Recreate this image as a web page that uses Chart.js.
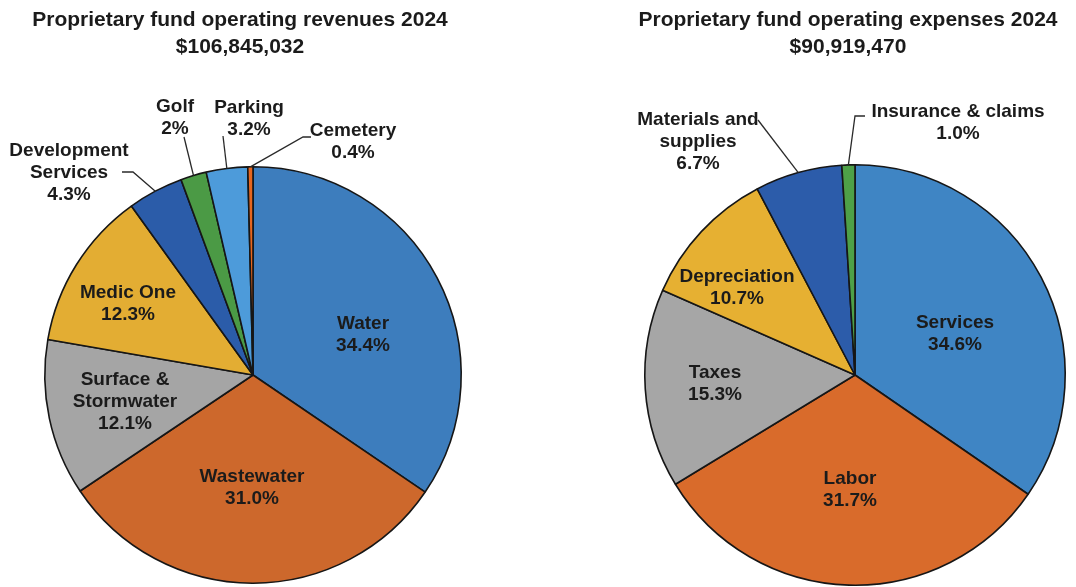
<!DOCTYPE html>
<html>
<head>
<meta charset="utf-8">
<script src="https://cdn.jsdelivr.net/npm/chart.js@4.4.1/dist/chart.umd.min.js"></script>
<style>
  html, body { margin: 0; padding: 0; background: #ffffff; }
  #wrap { position: relative; width: 1076px; height: 587px; overflow: hidden; }
  .pane { position: absolute; top: 0; width: 538px; height: 587px; }
</style>
</head>
<body>
<div id="wrap">
  <div class="pane" style="left:0"><canvas id="rev" width="538" height="587"></canvas></div>
  <div class="pane" style="left:538px"><canvas id="exp" width="538" height="587"></canvas></div>
</div>
<script>
// ---- Revenues 2024 ----
const revTitle = ['Proprietary fund operating revenues 2024', '$106,845,032'];
const revCategories = ['Water', 'Wastewater', 'Surface &\nStormwater', 'Medic One',
                       'Development\nServices', 'Golf', 'Parking', 'Cemetery'];
const revValues = [34.4, 31.0, 12.1, 12.3, 4.3, 2, 3.2, 0.4];
const revDecimals = [1, 1, 1, 1, 1, 0, 1, 1];

// ---- Expenses 2024 ----
const expTitle = ['Proprietary fund operating expenses 2024', '$90,919,470'];
const expCategories = ['Services', 'Labor', 'Taxes', 'Depreciation',
                       'Materials and\nsupplies', 'Insurance & claims'];
const expValues = [34.6, 31.7, 15.3, 10.7, 6.7, 1.0];
const expDecimals = [1, 1, 1, 1, 1, 1];

// Slice fills
const revColors = ['#3d7dbd', '#cd682c', '#a5a5a5', '#e3ad33', '#2b5ca9', '#4b9a45', '#4d9bda', '#e8661f'];
const expColors = ['#3f85c4', '#d96b2b', '#a6a6a6', '#e6b032', '#2c5caa', '#4ea048'];

// Label placement, in px relative to the pie centre; leader lines end on the slice edge
const revLabelLayout = [
  { dx: 110, dy: -40 },
  { dx: -1, dy: 113 },
  { dx: -128, dy: 27 },
  { dx: -125, dy: -71 },
  { dx: -184, dy: -202, leader: [[-131, -203], [-120, -203]] },
  { dx: -78, dy: -257, leader: [[-69, -238]] },
  { dx: -4, dy: -256, leader: [[-30, -239]] },
  { dx: 100, dy: -233, leader: [[58, -238], [50, -238]] }
];
const expLabelLayout = [
  { dx: 100, dy: -41 },
  { dx: -5, dy: 115 },
  { dx: -140, dy: 9 },
  { dx: -118, dy: -87 },
  { dx: -157, dy: -233, leader: [[-97, -255]] },
  { dx: 103, dy: -252, leader: [[10, -259], [0, -259]] }
];

const FONT = '"Liberation Sans", Arial, sans-serif';
const TEXT = '#1b1b1b';

const titlePlugin = {
  id: 'twoLineTitle',
  afterDraw(chart, args, opts) {
    const ctx = chart.ctx;
    ctx.save();
    ctx.fillStyle = TEXT;
    ctx.font = 'bold ' + opts.size + 'px ' + FONT;
    ctx.textAlign = 'center';
    ctx.textBaseline = 'middle';
    opts.lines.forEach((t, i) => ctx.fillText(t, opts.x, opts.y + i * opts.lineHeight));
    ctx.restore();
  }
};

const sliceLabelPlugin = {
  id: 'sliceLabels',
  afterDatasetsDraw(chart, args, opts) {
    const ctx = chart.ctx;
    const meta = chart.getDatasetMeta(0);
    const ds = chart.data.datasets[0];
    ctx.save();
    meta.data.forEach((arc, i) => {
      const lay = opts.layout[i];
      const cx = arc.x, cy = arc.y;
      const mid = (arc.startAngle + arc.endAngle) / 2;
      if (lay.leader) {
        ctx.strokeStyle = '#2a2a2a';
        ctx.lineWidth = 1.3;
        ctx.beginPath();
        lay.leader.forEach((p, k) => {
          if (k === 0) ctx.moveTo(cx + p[0], cy + p[1]);
          else ctx.lineTo(cx + p[0], cy + p[1]);
        });
        ctx.lineTo(cx + Math.cos(mid) * arc.outerRadius, cy + Math.sin(mid) * arc.outerRadius);
        ctx.stroke();
      }
      const lines = String(chart.data.labels[i]).split('\n');
      lines.push(ds.data[i].toFixed(opts.decimals[i]) + '%');
      ctx.fillStyle = TEXT;
      ctx.font = 'bold ' + opts.size + 'px ' + FONT;
      ctx.textAlign = 'center';
      ctx.textBaseline = 'middle';
      const top = cy + lay.dy - (lines.length - 1) * opts.lineHeight / 2;
      lines.forEach((t, k) => ctx.fillText(t, cx + lay.dx, top + k * opts.lineHeight));
    });
    ctx.restore();
  }
};

function makePie(id, labels, values, colors, decimals, layout, title, titleX, pad) {
  return new Chart(document.getElementById(id), {
    type: 'pie',
    data: {
      labels: labels,
      datasets: [{
        data: values,
        backgroundColor: colors,
        borderColor: '#161616',
        borderWidth: 1.6
      }]
    },
    options: {
      responsive: false,
      animation: false,
      rotation: 0,
      layout: { padding: pad },
      plugins: {
        legend: { display: false },
        tooltip: { enabled: false },
        twoLineTitle: { lines: title, x: titleX, y: 20, lineHeight: 27, size: 21 },
        sliceLabels: { layout: layout, decimals: decimals, size: 19, lineHeight: 22 }
      }
    },
    plugins: [titlePlugin, sliceLabelPlugin]
  });
}

makePie('rev', revCategories, revValues, revColors, revDecimals, revLabelLayout, revTitle, 240,
        { left: 44, right: 76, top: 166, bottom: 3 });
makePie('exp', expCategories, expValues, expColors, expDecimals, expLabelLayout, expTitle, 310,
        { left: 106, right: 10, top: 164, bottom: 1 });
</script>
</body>
</html>
